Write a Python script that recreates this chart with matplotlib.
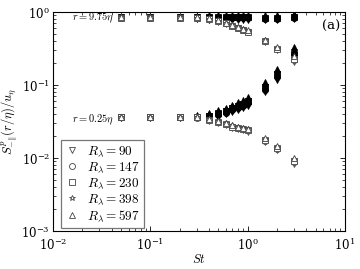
import matplotlib
matplotlib.use("Agg")
import matplotlib.pyplot as plt

plt.rcParams['mathtext.fontset'] = 'cm'
plt.rcParams['font.family'] = 'DejaVu Serif'

St = [0.05, 0.1, 0.2, 0.3, 0.4, 0.5, 0.6, 0.7, 0.8, 0.9, 1.0, 1.5, 2.0, 3.0]
R_lambda = [90, 147, 230, 398, 597]
markers = ['v', 'o', 's', '*', '^']

# r = 9.75 eta, S^p_- (open)
up_open = {
    90:  [0.83, 0.83, 0.83, 0.82, 0.79, 0.74, 0.69, 0.64, 0.60, 0.56, 0.53, 0.39, 0.30, 0.21],
    147: [0.84, 0.84, 0.84, 0.83, 0.80, 0.75, 0.70, 0.65, 0.61, 0.57, 0.54, 0.40, 0.31, 0.22],
    230: [0.84, 0.84, 0.84, 0.83, 0.80, 0.75, 0.70, 0.65, 0.61, 0.57, 0.54, 0.40, 0.31, 0.23],
    398: [0.85, 0.85, 0.85, 0.84, 0.81, 0.76, 0.71, 0.66, 0.62, 0.58, 0.55, 0.41, 0.32, 0.24],
    597: [0.86, 0.86, 0.86, 0.85, 0.82, 0.77, 0.72, 0.67, 0.63, 0.59, 0.56, 0.42, 0.33, 0.25],
}
# r = 9.75 eta, S^p_+ (filled)
up_fill = {
    90:  [0.82, 0.82, 0.82, 0.80, 0.79, 0.78, 0.78, 0.78, 0.78, 0.78, 0.78, 0.78, 0.78, 0.80],
    147: [0.84, 0.84, 0.84, 0.83, 0.82, 0.82, 0.82, 0.82, 0.82, 0.82, 0.82, 0.81, 0.81, 0.84],
    230: [0.85, 0.85, 0.85, 0.85, 0.85, 0.85, 0.85, 0.85, 0.85, 0.85, 0.85, 0.84, 0.84, 0.87],
    398: [0.86, 0.86, 0.86, 0.87, 0.88, 0.88, 0.88, 0.88, 0.88, 0.88, 0.88, 0.87, 0.87, 0.90],
    597: [0.87, 0.87, 0.87, 0.89, 0.91, 0.91, 0.91, 0.91, 0.91, 0.91, 0.91, 0.90, 0.90, 0.93],
}
# r = 0.25 eta, S^p_+ (filled)
lo_fill = {
    90:  [0.035, 0.035, 0.035, 0.035, 0.036, 0.037, 0.040, 0.043, 0.046, 0.049, 0.052, 0.080, 0.118, 0.22],
    147: [0.036, 0.036, 0.036, 0.036, 0.037, 0.039, 0.042, 0.045, 0.048, 0.052, 0.056, 0.087, 0.130, 0.25],
    230: [0.036, 0.036, 0.036, 0.037, 0.038, 0.041, 0.044, 0.048, 0.051, 0.055, 0.060, 0.094, 0.140, 0.27],
    398: [0.036, 0.036, 0.036, 0.038, 0.040, 0.043, 0.047, 0.051, 0.055, 0.059, 0.064, 0.101, 0.152, 0.30],
    597: [0.037, 0.037, 0.037, 0.039, 0.042, 0.045, 0.049, 0.053, 0.058, 0.063, 0.069, 0.110, 0.165, 0.33],
}
# r = 0.25 eta, S^p_- (open)
lo_open = {
    90:  [0.035, 0.035, 0.035, 0.035, 0.032, 0.030, 0.028, 0.026, 0.025, 0.024, 0.023, 0.0168, 0.0128, 0.0084],
    147: [0.036, 0.036, 0.036, 0.035, 0.033, 0.031, 0.029, 0.027, 0.026, 0.025, 0.024, 0.0174, 0.0134, 0.0089],
    230: [0.036, 0.036, 0.036, 0.036, 0.033, 0.031, 0.029, 0.027, 0.026, 0.025, 0.024, 0.0178, 0.0138, 0.0092],
    398: [0.036, 0.036, 0.036, 0.036, 0.034, 0.032, 0.030, 0.028, 0.027, 0.026, 0.025, 0.0183, 0.0143, 0.0096],
    597: [0.037, 0.037, 0.037, 0.036, 0.034, 0.032, 0.030, 0.028, 0.027, 0.026, 0.025, 0.0188, 0.0148, 0.0100],
}

fig = plt.figure(figsize=(3.6, 2.69), dpi=100)
ax = fig.add_axes([0.147, 0.141, 0.811, 0.814])

ms = 4.3
for R, m in zip(R_lambda, markers):
    ax.plot(St, up_fill[R], linestyle='none', marker=m, ms=ms, mfc='black', mec='black', mew=0.6)
    ax.plot(St, lo_fill[R], linestyle='none', marker=m, ms=ms, mfc='black', mec='black', mew=0.6)
for R, m in zip(R_lambda, markers):
    ax.plot(St, up_open[R], linestyle='none', marker=m, ms=ms, mfc='white', mec='#444444', mew=0.6)
    ax.plot(St, lo_open[R], linestyle='none', marker=m, ms=ms, mfc='white', mec='#444444', mew=0.6,
            label=r'$R_\lambda=%d$' % R)

ax.set_xscale('log')
ax.set_yscale('log')
ax.set_xlim(1e-2, 1e1)
ax.set_ylim(1e-3, 1e0)
ax.tick_params(which='both', direction='in', top=True, right=True, labelsize=8.5)
ax.tick_params(which='major', length=3.5, width=0.6)
ax.tick_params(which='minor', length=2, width=0.5)
ax.tick_params(axis='y', pad=2)
ax.tick_params(axis='x', pad=4.5)
for s in ax.spines.values():
    s.set_linewidth(0.8)

ax.set_xlabel(r'$St$', fontsize=9, labelpad=0)
ax.set_ylabel(r'$S^p_{-\|}(r/\eta)/u_\eta$', fontsize=9, labelpad=1)

ax.text(0.067, 0.975, r'$r=9.75\eta$', transform=ax.transAxes, fontsize=7.5, va='center', ha='left')
ax.text(0.067, 0.51, r'$r=0.25\eta$', transform=ax.transAxes, fontsize=7.5, va='center', ha='left')
ax.text(0.985, 0.935, '(a)', transform=ax.transAxes, fontsize=9.5, va='center', ha='right')

leg = ax.legend(loc='lower left', bbox_to_anchor=(0.027, 0.012), fontsize=9.5, frameon=True,
                fancybox=False, edgecolor='#555555', handlelength=1.0, handletextpad=0.6,
                labelspacing=0.12, borderpad=0.35, borderaxespad=0.0, markerscale=1.0)
leg.get_frame().set_linewidth(0.9)

fig.savefig('out.png', dpi=100)
